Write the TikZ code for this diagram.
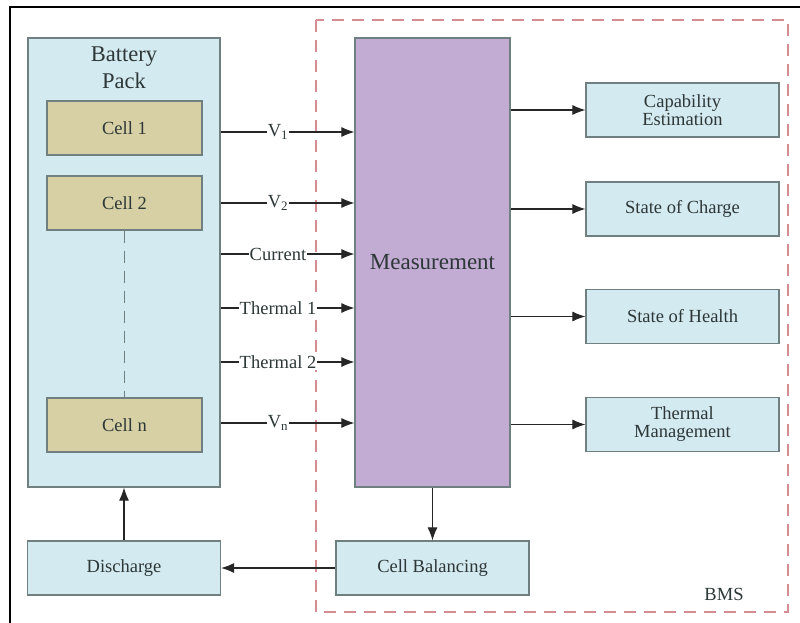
\documentclass[tikz,border=0pt]{standalone}
\usepackage{fontspec}
\setmainfont{Liberation Serif}
\usetikzlibrary{arrows.meta}
\definecolor{packblue}{RGB}{211,234,240}
\definecolor{cellfill}{RGB}{214,208,164}
\definecolor{measfill}{RGB}{194,172,212}
\definecolor{edgegray}{RGB}{112,128,128}
\definecolor{txt}{RGB}{45,55,55}
\definecolor{bmsred}{RGB}{214,140,145}
\tikzset{
  box/.style={draw=edgegray, line width=1.2pt, fill=packblue, text=txt, align=center,
    inner sep=0pt, font=\fontsize{18.5}{20}\selectfont},
  cellbox/.style={box, fill=cellfill, minimum width=155pt, minimum height=54pt},
  sidebox/.style={box, minimum width=193pt, minimum height=54pt},
  conn/.style={draw=black!85, line width=1.1pt, -{Latex[length=13pt,width=10pt]}},
  lab/.style={fill=white, text=txt, inner sep=1pt, font=\fontsize{18.5}{20}\selectfont},
}
\begin{document}
\begin{tikzpicture}[x=1pt,y=-1pt]
\useasboundingbox (0,0) rectangle (800,623);
\fill[white] (0,0) rectangle (800,623);
% outer frame
\draw[black, line width=2pt] (10,623) -- (10,7) -- (800,7);
% BMS dashed region
\draw[bmsred, line width=1.1pt, dash pattern=on 12pt off 8pt] (316,20) rectangle (788,612);
\node[text=txt, font=\fontsize{18.5}{20}\selectfont] (bms) at (724,594) {BMS};
% battery pack
\node[box, minimum width=192pt, minimum height=449pt] (pack) at (124,262.5) {};
\node[text=txt, align=center, font=\fontsize{22.5}{27}\selectfont] (packlab) at (124,68) {Battery\\Pack};
\node[cellbox] (c1) at (124.5,128) {Cell 1};
\node[cellbox] (c2) at (124.5,203) {Cell 2};
\node[cellbox] (cn) at (124.5,425) {Cell n};
\draw[edgegray, line width=1.1pt, dash pattern=on 12pt off 8pt] (c2.south) -- (cn.north);
% measurement
\node[box, fill=measfill, minimum width=155pt, minimum height=449pt, font=\fontsize{23}{26}\selectfont] (meas) at (432.5,262.5) {Measurement};
% right boxes
\node[sidebox] (cap) at (682.5,110) {Capability\\[-2pt]Estimation};
\node[sidebox] (soc) at (682.5,209) {State of Charge};
\node[sidebox] (soh) at (682.5,316.5) {State of Health};
\node[sidebox] (tm) at (682.5,424.5) {Thermal\\[-2pt]Management};
% bottom boxes
\node[sidebox] (dis) at (124,568) {Discharge};
\node[sidebox] (cb) at (432.5,568) {Cell Balancing};
% input arrows
\foreach \yy/\nm/\tx in {132/v1/V\textsubscript{1}, 203/v2/V\textsubscript{2}, 254/cur/Current, 308/th1/Thermal 1, 362/th2/Thermal 2, 423/vn/V\textsubscript{n}}{
  \coordinate (s\nm) at (pack.east |- 0,\yy);
  \coordinate (e\nm) at (meas.west |- 0,\yy);
  \draw[conn] (s\nm) -- (e\nm);
  \node[lab] (l\nm) at (278,\yy) {\tx};
}
% output arrows
\foreach \tg in {cap,soc,soh,tm}{
  \draw[conn] (meas.east |- \tg.west) -- (\tg.west);
}
\draw[conn] (meas.south) -- (cb.north);
\draw[conn] (cb.west) -- (dis.east);
\draw[conn] (dis.north) -- (pack.south);
\end{tikzpicture}
\end{document}
